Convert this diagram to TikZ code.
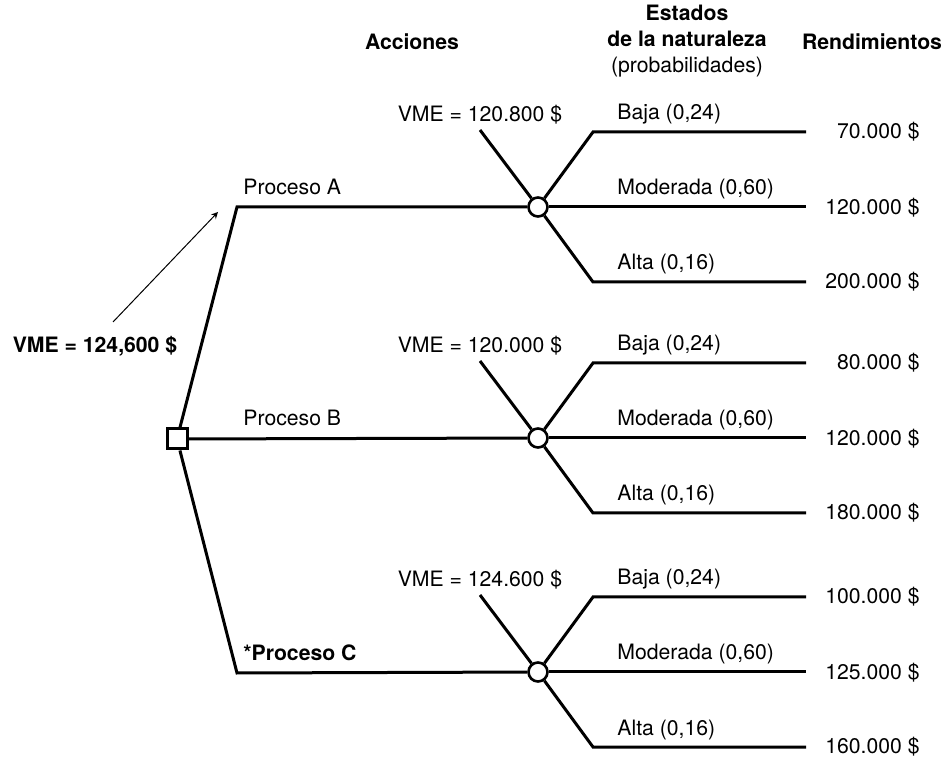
\documentclass[tikz,border=0pt]{standalone}
\usepackage{fontspec}
\setmainfont{TeX Gyre Heros}
\usepackage{tikz}
\usetikzlibrary{arrows}
\AtBeginDocument{\fontsize{10.6}{13}\selectfont}

\tikzset{
  branch/.style={line width=1.5pt},
  decnode/.style={draw, line width=1.5pt, fill=white, minimum size=10pt, inner sep=0pt},
  chnode/.style={draw, circle, line width=1.3pt, fill=white, minimum size=9.5pt, inner sep=0pt},
  lbl/.style={inner sep=0pt, anchor=base west},
  pay/.style={inner sep=0pt, anchor=east},
  hdr/.style={font=\bfseries, align=center},
}

\begin{document}
\begin{tikzpicture}[x=0.5pt, y=-0.5pt]
\useasboundingbox (0,0) rectangle (948,758);
\node[hdr] (acc) at (412,42) {Acciones};
\node[align=center] (est) at (687,41)
	{\textbf{Estados}\\\textbf{de la naturaleza}\\(probabilidades)};
\node[hdr] (rend) at (872,42) {Rendimientos};
\node[decnode] (dec) at (177,439) {};
\coordinate (aA) at (237,207);
\coordinate (aB) at (237,438);
\coordinate (aC) at (237,673);
\foreach \n/\y/\vme/\pa/\pb/\pc in {A/207/{120.800}/{70.000}/{120.000}/{200.000},
	B/438/{120.000}/{80.000}/{120.000}/{180.000},
	C/672/{124.600}/{100.000}/{125.000}/{160.000}}{
  \node[chnode] (ch\n) at (538,\y) {};
  \coordinate (v\n) at (480,\y-77);
  \coordinate (b\n1) at (593,\y-75);
  \coordinate (b\n2) at (593,\y);
  \coordinate (b\n3) at (593,\y+75);
  \coordinate (e\n1) at (806,\y-75);
  \coordinate (e\n2) at (806,\y);
  \coordinate (e\n3) at (806,\y+75);
  \draw[branch] (v\n) -- (ch\n);
  \draw[branch] (ch\n) -- (b\n1) -- (e\n1);
  \draw[branch] (ch\n) -- (e\n2);
  \draw[branch] (ch\n) -- (b\n3) -- (e\n3);
  \node[inner sep=0pt, anchor=base, yshift=4pt] (m\n) at (v\n) {VME = \vme\ \$};
  \node[lbl, xshift=12pt, yshift=6pt] (l\n1) at (b\n1) {Baja (0,24)};
  \node[lbl, xshift=12pt, yshift=6pt] (l\n2) at (b\n2) {Moderada (0,60)};
  \node[lbl, xshift=12pt, yshift=6pt] (l\n3) at (b\n3) {Alta (0,16)};
  \node[pay] (p\n1) at (920,\y-75) {\pa\ \$};
  \node[pay] (p\n2) at (920,\y+1) {\pb\ \$};
  \node[pay] (p\n3) at (920,\y+75) {\pc\ \$};
}
\draw[branch] (dec) -- (aA) -- (chA);
\draw[branch] (dec) -- (chB);
\draw[branch] (dec) -- (aC) -- (chC);
\node[lbl, xshift=3pt, yshift=6pt] (prA) at (aA) {Proceso A};
\node[lbl, xshift=3pt, yshift=6pt] (prB) at (aB) {Proceso B};
\node[lbl, xshift=3pt, yshift=6pt, font=\bfseries] (prC) at (aC) {*Proceso C};
\node[font=\bfseries] (vmeT) at (95,346) {VME = 124,600 \$};
\coordinate (arrS) at (113,322);
\coordinate (arrE) at (218,212);
\draw[-stealth, line width=0.5pt] (arrS) -- (arrE);
\end{tikzpicture}
\end{document}
